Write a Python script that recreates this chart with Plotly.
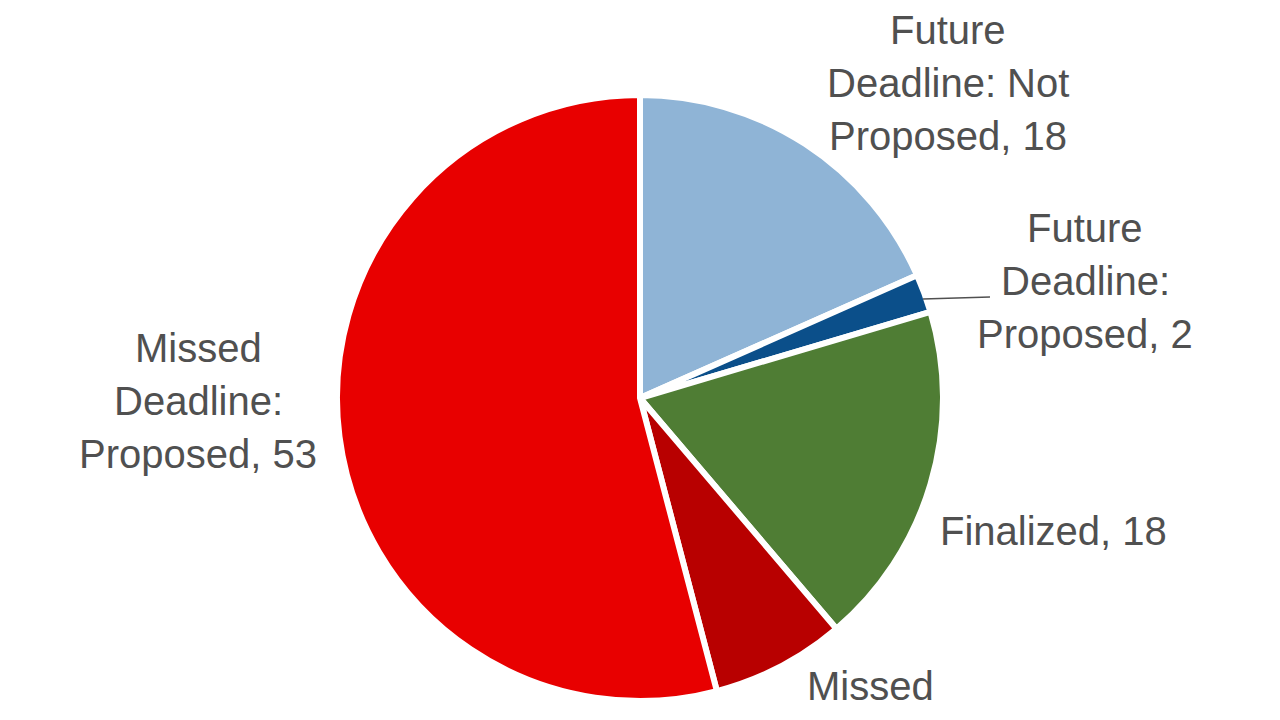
import plotly.graph_objects as go

categories = ["Future Deadline: Not Proposed", "Future Deadline: Proposed", "Finalized",
              "Missed Deadline: Not Proposed", "Missed Deadline: Proposed"]
values = [18, 2, 18, 7, 53]
colors = ["#8fb4d6", "#0b4f8a", "#4f7d34", "#b80000", "#e80000"]

label_lines = [
    ["Future", "Deadline: Not", "Proposed, 18"],
    ["Future", "Deadline:", "Proposed, 2"],
    ["Finalized, 18"],
    ["Missed", "Deadline: Not", "Proposed, 7"],
    ["Missed", "Deadline:", "Proposed, 53"],
]
label_pos = [(940, 22), (1077, 220), (1045, 523), (862, 678), (190, 340)]

W, H = 1280, 720
cx, cy, r = 632, 390, 303

fig = go.Figure(go.Pie(
    labels=categories, values=values, sort=False, direction="clockwise", rotation=0,
    marker=dict(colors=colors, line=dict(color="white", width=6)),
    textinfo="none", hoverinfo="label+value", showlegend=False,
    domain=dict(x=[(cx - r) / W, (cx + r) / W], y=[1 - (cy + r) / H, 1 - (cy - r) / H]),
))

anns = []
for lines, (x, y0) in zip(label_lines, label_pos):
    for i, t in enumerate(lines):
        anns.append(dict(x=x / W, y=1 - (y0 + 53 * i) / H, xref="paper", yref="paper",
                         text=t, showarrow=False, xanchor="center", yanchor="middle",
                         font=dict(family="Liberation Sans, Arial", size=40, color="#505050")))
fig.update_layout(
    width=W, height=H, margin=dict(l=0, r=0, t=0, b=0),
    paper_bgcolor="white", plot_bgcolor="white", annotations=anns,
    shapes=[dict(type="line", xref="paper", yref="paper", x0=915 / W, x1=982 / W,
                 y0=1 - 291 / H, y1=1 - 289 / H, line=dict(color="#505050", width=1.5))],
)
fig.write_html("out.html")
